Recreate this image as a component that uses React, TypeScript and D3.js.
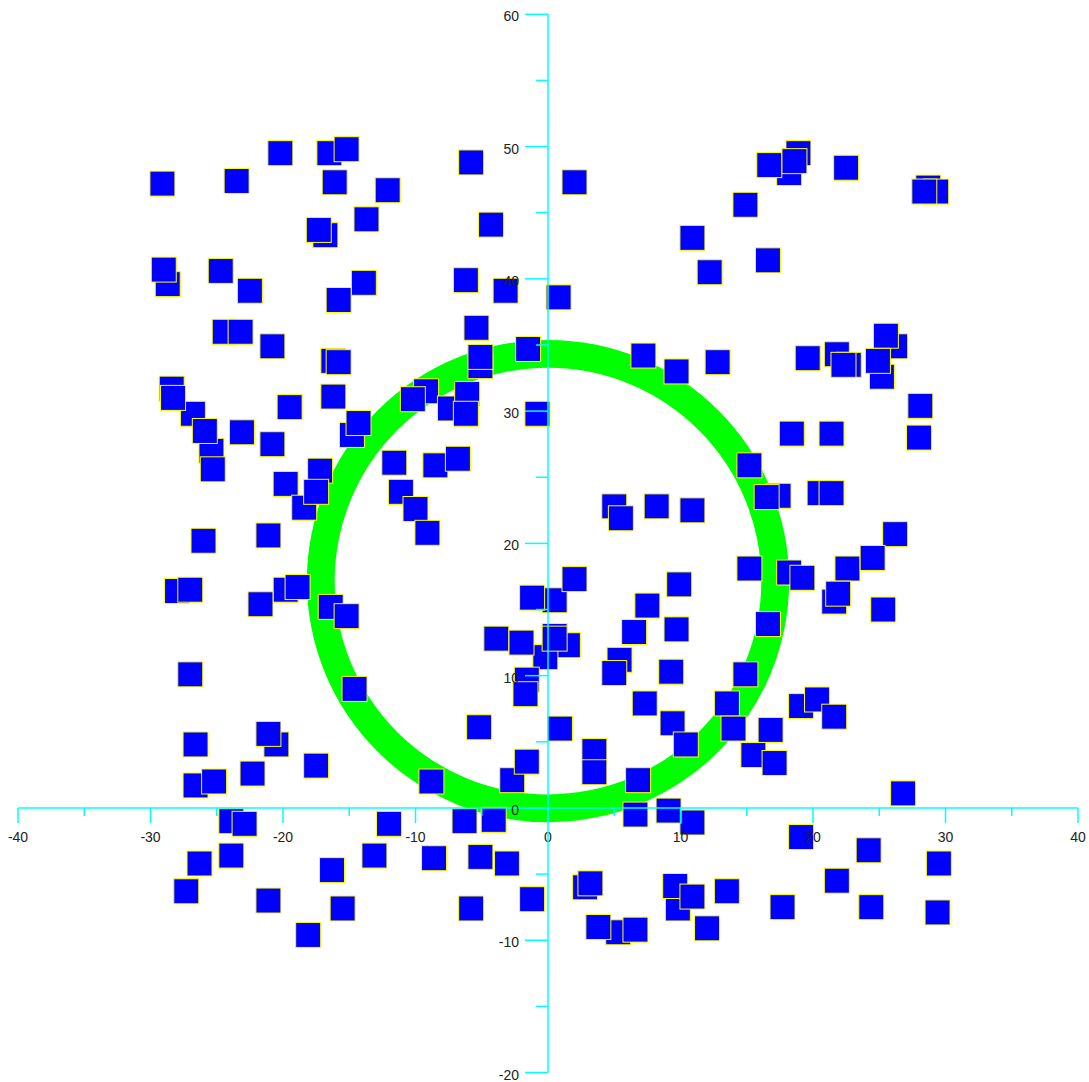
import React from 'react';
import * as d3 from 'd3';

const WIDTH = 1089;
const HEIGHT = 1082;

const xDomain = [-40, 40];
const yDomain = [-20, 60];
const xTickValues = [-40, -35, -30, -25, -20, -15, -10, -5, 0, 5, 10, 15, 20, 25, 30, 35, 40];
const yTickValues = [-20, -15, -10, -5, 0, 5, 10, 15, 20, 25, 30, 35, 40, 45, 50, 55, 60];
const xTickLabels = ['-40', '-30', '-20', '-10', '0', '10', '20', '30', '40'];
const yTickLabels = ['-20', '-10', '0', '10', '20', '30', '40', '50', '60'];

const ringCenter = [0, 17.15];
const ringInner = 16.1;
const ringOuter = 18.2;

const pointX = [
  -16.5, -16.8, -28.7, -24.4, -16.2, -28.4, -26.8, -25.4, -14.8, -9.2,
  -17.2, -19.8, -18.4, -5.1, -7.4, -6.1, -8.5, 5.0, 18.9, 18.2,
  28.7, 29.3, 21.8, 22.7, 26.2, 25.2, 17.4, 20.5, 18.2, 22.6,
  21.6, 15.5, 19.1, 0.5, 0.5, 1.5, -0.2, 5.4, -1.6, 9.4,
  3.5, -2.7, 2.8, 9.8, 9.6, 5.3, -28.0, -19.8, -16.4, -20.5,
  -26.6, -23.9,
  -29.1, -23.5, -20.2, -15.2, -16.1, -12.1, -13.7, -17.3, -29.0, -24.7,
  -22.5, -13.9, -15.8, -23.2, -20.8, -15.8, -28.3, -25.9, -25.3, -23.1,
  -20.8, -19.5, -16.2, -14.3, -10.2, -11.6, -11.1, -10.0, -9.1, -17.5,
  -26.0, -21.1, -5.8, 2.0, -4.3, 10.9, -6.2, -3.2, 0.8, -5.4,
  -5.1, -1.5, -6.2, -0.8, -6.8, 7.2, 9.7, 5.5, 8.2, 10.9,
  16.7, 18.6, 22.5, 28.4, 14.9, 12.2, 16.6, 12.8, 19.6, 22.3,
  25.5, 24.9, 28.1, 28.0, 18.4, 21.4, 15.2, 16.5, 21.4, 26.2,
  24.5, 15.2, 19.2, 21.9, 25.3, 16.6, 14.9, 13.5, 14.0, 16.8,
  17.1, 20.3, 21.6, 26.8, 10.9, 19.1, 24.2, 29.5, 21.8, 13.5,
  10.9, 17.7, 24.4, 29.4, 12.0, 2.0, -1.2, 9.9, 7.5, 6.5,
  9.7, -3.9, -2.0, 0.5, 5.0, 9.3, -1.7, 7.3, -5.2, 0.9,
  10.4, 3.5, -1.6, -8.8, 6.8, -6.3, -4.1, 6.6, 9.1, -8.6,
  -5.1, -3.1, -1.2, -5.8, 3.2, 3.8, 6.6, -27.0, -21.7, -18.9,
  -15.2, -27.0, -14.6, -26.6, -21.1, -17.5, -25.2, -22.3, -22.9, -12.0,
  -26.3, -23.9, -13.1, -16.3, -27.3, -21.1, -15.5, -18.1,
];

const pointY = [
  49.5, 43.3, 39.6, 36.0, 33.8, 31.7, 29.8, 27.0, 28.2, 31.5,
  25.5, 24.5, 22.7, 33.4, 30.2, 31.3, 25.9, 22.8, 49.5, 48.0,
  46.9, 46.6, 34.3, 33.5, 34.9, 32.6, 23.6, 23.8, 17.8, 18.1,
  15.6, 4.0, 7.7, 15.7, 13.0, 12.3, 11.4, 11.2, 9.7, 6.4,
  4.3, 2.1, -6.0, -7.6, -5.9, -9.4, 16.4, 16.5, 15.2, 4.8,
  1.7, -1.0,
  47.2, 47.4, 49.5, 49.8, 47.3, 46.7, 44.5, 43.7, 40.7, 40.6,
  39.1, 39.7, 38.4, 36.0, 34.9, 33.7, 31.0, 28.5, 25.6, 28.4,
  27.5, 30.3, 31.1, 29.1, 30.9, 26.1, 23.9, 22.6, 20.8, 23.9,
  20.2, 20.6, 48.8, 47.3, 44.1, 43.1, 39.9, 39.1, 38.6, 36.3,
  34.1, 34.7, 29.8, 29.8, 26.4, 34.2, 33.0, 21.9, 22.8, 22.5,
  48.6, 48.9, 48.4, 46.6, 45.6, 40.5, 41.4, 33.7, 34.0, 33.5,
  35.7, 33.8, 30.4, 28.0, 28.3, 28.3, 25.9, 23.5, 23.8, 20.7,
  18.9, 18.1, 17.4, 16.2, 15.0, 13.9, 10.1, 7.9, 6.0, 5.9,
  3.4, 8.2, 6.9, 1.1, -1.1, -2.2, -3.2, -4.2, -5.5, -6.3,
  -6.7, -7.5, -7.5, -7.9, -9.1, 17.3, 15.9, 16.9, 15.3, 13.3,
  13.5, 12.8, 12.5, 12.8, 10.2, 10.3, 8.6, 7.9, 6.1, 6.0,
  4.8, 2.7, 3.5, 2.0, 2.1, -1.0, -0.9, -0.5, -0.2, -3.8,
  -3.7, -4.2, -6.9, -7.6, -5.7, -9.0, -9.2, 16.5, 15.4, 16.7,
  14.5, 10.1, 9.0, 4.8, 5.6, 3.2, 2.0, 2.6, -1.2, -1.2,
  -4.2, -3.6, -3.6, -4.7, -6.3, -7.0, -7.6, -9.6,
];

export default function App() {
  const x = d3.scaleLinear().domain(xDomain).range([18, 1078]);
  const y = d3.scaleLinear().domain(yDomain).range([1072.5, 14.3]);
  const x0 = x(0);
  const y0 = y(0);
  const pxPerUnit = x(1) - x(0);

  const ringPath = d3.arc()({
    innerRadius: ringInner * pxPerUnit,
    outerRadius: ringOuter * pxPerUnit,
    startAngle: 0,
    endAngle: Math.PI * 2,
  } as any) as string;

  const sq = 25;
  const axisColor = '#00ffff';
  const labelStyle = { fontFamily: '"Liberation Sans", Arial, sans-serif', fontSize: 14, fill: '#222' };

  return (
    <svg
      width={WIDTH}
      height={HEIGHT}
      style={{ position: 'absolute', left: 0, top: 0, background: '#ffffff' }}
    >
      <path d={ringPath} transform={`translate(${x(ringCenter[0])},${y(ringCenter[1])})`} fill="#00ff00" />
      <g>
        {pointX.map((vx, i) => (
          <rect
            key={i}
            x={x(vx) - sq / 2}
            y={y(pointY[i]) - sq / 2}
            width={sq}
            height={sq}
            fill="#0000ff"
            stroke="#ffff00"
            strokeWidth={1}
          />
        ))}
      </g>
      <g>
        <line x1={x(xDomain[0])} x2={x(xDomain[1])} y1={y0} y2={y0} stroke={axisColor} strokeWidth={1.5} />
        {xTickValues.map((v) => (
          <line key={'xt' + v} x1={x(v)} x2={x(v)} y1={y0} y2={y0 + (v % 10 === 0 ? 15 : 8)} stroke={axisColor} strokeWidth={1.5} />
        ))}
        {xTickLabels.map((t) => (
          <text key={'xl' + t} x={x(+t)} y={y0 + 34} textAnchor="middle" style={labelStyle}>
            {t}
          </text>
        ))}
        <line x1={x0} x2={x0} y1={y(yDomain[0])} y2={y(yDomain[1])} stroke={axisColor} strokeWidth={1.5} />
        {yTickValues.map((v) => (
          <line key={'yt' + v} x1={x0 - (v % 10 === 0 ? 23 : 12)} x2={x0} y1={y(v)} y2={y(v)} stroke={axisColor} strokeWidth={1.5} />
        ))}
        {yTickLabels.map((t) => (
          <text key={'yl' + t} x={x0 - 29} y={y(+t) + 7} textAnchor="end" style={labelStyle}>
            {t}
          </text>
        ))}
      </g>
    </svg>
  );
}
